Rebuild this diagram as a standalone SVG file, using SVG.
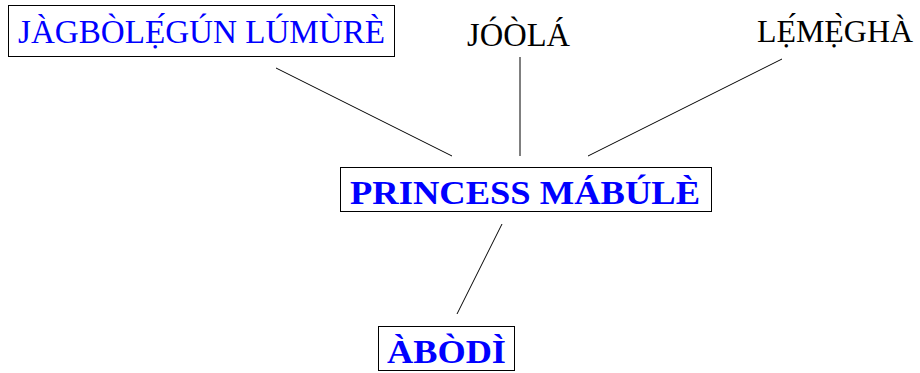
<svg xmlns="http://www.w3.org/2000/svg" width="920" height="373" viewBox="0 0 920 373">
  <style>
    .box { fill: #ffffff; stroke: #000000; stroke-width: 1; }
    .lbl { font-family: "Liberation Serif", "DejaVu Serif", serif; font-size: 34px; }
    .blue { fill: #0000ff; }
    .black { fill: #000000; }
    .bold { font-weight: bold; }
    .edge { stroke: #000000; stroke-width: 1; fill: none; }
  </style>
  <rect width="920" height="373" fill="#ffffff"/>

  <!-- connectors -->
  <g id="connectors">
    <line class="edge" x1="276" y1="68" x2="452" y2="156"/>
    <line class="edge" x1="520" y1="57" x2="520" y2="156"/>
    <line class="edge" x1="782" y1="59" x2="588" y2="156"/>
    <line class="edge" x1="502" y1="224" x2="457" y2="314"/>
  </g>

  <g id="jagbolegun">
    <rect class="box" x="8.5" y="5.5" width="386" height="51"/>
    <text class="lbl blue" x="18" y="43" textLength="367" lengthAdjust="spacingAndGlyphs">JÀGBÒLẸ́GÚN LÚMÙRÈ</text>
  </g>

  <g id="joola">
    <text class="lbl black" x="467" y="46" textLength="103" lengthAdjust="spacingAndGlyphs">JÓÒLÁ</text>
  </g>

  <g id="lemegha">
    <text class="lbl black" x="757" y="42" style="font-size:32px" textLength="156" lengthAdjust="spacingAndGlyphs">LẸ́MẸ̀GHÀ</text>
  </g>

  <g id="princess">
    <rect class="box" x="340.5" y="167.5" width="371" height="44"/>
    <text class="lbl blue bold" x="350" y="204" textLength="350" lengthAdjust="spacingAndGlyphs">PRINCESS MÁBÚLÈ</text>
  </g>

  <g id="abodi">
    <rect class="box" x="378.5" y="326.5" width="136" height="44"/>
    <text class="lbl blue bold" x="387" y="363" textLength="119" lengthAdjust="spacingAndGlyphs">ÀBÒDÌ</text>
  </g>
</svg>
